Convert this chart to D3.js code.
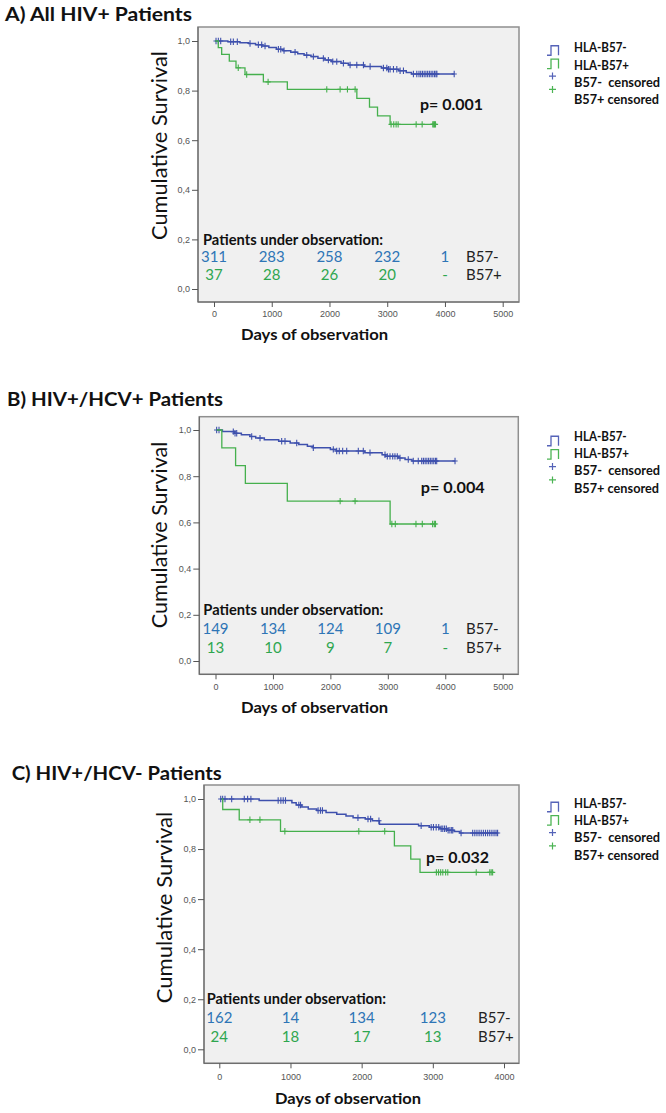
<!DOCTYPE html>
<html><head><meta charset="utf-8">
<script src="https://cdn.jsdelivr.net/npm/d3@7"></script>
<style>body{margin:0;background:#fff;} svg{display:block;} text{white-space:pre;}</style>
</head><body>
<svg id="chart" width="666" height="1113"></svg>
<script>
// ================= DATA =================
const panelTitles = ["A) All HIV+ Patients", "B) HIV+/HCV+ Patients", "C) HIV+/HCV- Patients"];
const pValues = ["p= 0.001", "p= 0.004", "p= 0.032"];
const xTicksAB = [0, 1000, 2000, 3000, 4000, 5000];
const xTicksC = [0, 1000, 2000, 3000, 4000];
const yTicks = [0, 0.2, 0.4, 0.6, 0.8, 1.0];
const yTickLabels = ["0,0", "0,2", "0,4", "0,6", "0,8", "1,0"];
const legendLabels = ["HLA-B57-", "HLA-B57+", "B57-  censored", "B57+ censored"];
const atRiskHeader = "Patients under observation:";
const groupLabels = ["B57-", "B57+"];
const yTitle = "Cumulative Survival";
const xTitle = "Days of observation";

// numbers at risk
const atRiskDaysAB = [0, 1000, 2000, 3000, 4000];
const atRiskDaysC = [0, 1000, 2000, 3000];
const atRiskA_neg = ["311", "283", "258", "232", "1"];
const atRiskA_pos = ["37", "28", "26", "20", "-"];
const atRiskB_neg = ["149", "134", "124", "109", "1"];
const atRiskB_pos = ["13", "10", "9", "7", "-"];
const atRiskC_neg = ["162", "14", "134", "123"];
const atRiskC_pos = ["24", "18", "17", "13"];

// Kaplan-Meier curves: [day, survival after step]
// Panel A
const kmA_negStart = 20, kmA_negEnd = 4160;
const kmA_negSteps = [[240,0.997],[450,0.993],[600,0.99],[720,0.985],[830,0.98],[950,0.974],[1080,0.967],[1200,0.961],[1330,0.955],[1450,0.949],[1560,0.943],[1680,0.937],[1800,0.93],[1920,0.923],[2040,0.917],[2200,0.91],[2330,0.903],[2600,0.897],[2900,0.891],[3000,0.886],[3200,0.88],[3330,0.873],[3420,0.867]];
const kmA_negCens = [35,75,116,289,335,404,624,768,826,884,1115,1156,1213,1404,1606,1721,1894,1981,2057,2126,2241,2357,2473,2588,2704,2934,2993,3022,3050,3108,3166,3223,3281,3454,3512,3550,3580,3610,3640,3670,3700,3730,3760,3790,3820,3845,3860,4160];
const kmA_posStart = 20, kmA_posEnd = 3840;
const kmA_posSteps = [[74,0.973],[133,0.946],[265,0.919],[381,0.892],[537,0.865],[855,0.835],[1270,0.805],[2474,0.769],[2693,0.733],[2832,0.698],[3050,0.664]];
const kmA_posCens = [420,566,937,1953,2184,2311,2444,3067,3113,3154,3189,3501,3605,3789,3805,3819,3836];

// Panel B
const kmB_negStart = 20, kmB_negEnd = 4170;
const kmB_negSteps = [[120,0.993],[330,0.986],[450,0.979],[600,0.972],[700,0.965],[850,0.958],[1100,0.951],[1300,0.944],[1450,0.937],[1600,0.93],[1700,0.923],[2000,0.916],[2100,0.909],[2600,0.902],[2900,0.893],[2960,0.886],[3180,0.879],[3300,0.872],[3420,0.866]];
const kmB_negCens = [20,61,310,340,369,630,775,1152,1210,1414,1703,2051,2110,2155,2214,2284,2486,2573,2690,2951,2991,3038,3085,3124,3165,3212,3356,3443,3530,3590,3620,3650,3680,3710,3740,3770,3800,3830,3851,4170];
const kmB_posStart = 20, kmB_posEnd = 3840;
const kmB_posSteps = [[110,0.923],[350,0.846],[520,0.769],[1250,0.692],[3040,0.593]];
const kmB_posCens = [2170,2430,3070,3130,3490,3600,3780,3810,3830];

// Panel C
const kmC_negStart = 20, kmC_negEnd = 3910;
const kmC_negSteps = [[560,0.994],[1020,0.985],[1080,0.976],[1160,0.968],[1250,0.96],[1370,0.954],[1500,0.946],[1650,0.939],[1780,0.932],[1880,0.925],[2050,0.92],[2150,0.913],[2250,0.899],[2800,0.893],[2950,0.887],[3100,0.881],[3200,0.875],[3300,0.87],[3380,0.864]];
const kmC_negCens = [20,47,80,174,351,398,444,827,865,898,930,1117,1141,1388,1421,1449,1948,2089,2126,2243,2836,2977,3009,3047,3083,3117,3140,3165,3190,3215,3240,3265,3280,3397,3560,3590,3620,3650,3680,3710,3740,3770,3800,3830,3860,3888,3910];
const kmC_posStart = 33, kmC_posEnd = 3850;
const kmC_posSteps = [[48,0.958],[280,0.917],[860,0.871],[2460,0.813],[2690,0.76],[2820,0.707]];
const kmC_posCens = [430,571,921,1960,2324,3050,3080,3110,3140,3180,3210,3610,3800,3820,3840];

// ================= STYLE / LAYOUT =================
const colNegLine = "#3e50ad", colPosLine = "#45b04d";
const colNegText = "#2e75b6", colPosText = "#2ea64f";
const colNegIcon = "#5563b8", colPosIcon = "#4cb454";
const fontMain = "Lato, 'Open Sans', sans-serif";
const fontTick = "'Liberation Sans', Arial, sans-serif";

const panels = [
  { title: panelTitles[0], p: pValues[0], xTicks: xTicksAB, riskDays: atRiskDaysAB, riskNeg: atRiskA_neg, riskPos: atRiskA_pos,
    neg: {start: kmA_negStart, end: kmA_negEnd, steps: kmA_negSteps, cens: kmA_negCens},
    pos: {start: kmA_posStart, end: kmA_posEnd, steps: kmA_posSteps, cens: kmA_posCens},
    L: {box:[198,27,519,302], x0:214, xMaxPx:502.7, xMax:5000, yB:289, yT:41, title:[5,21,187], yTitle:[160,145.5,189], xTitle:[314.5,340,147], p:[420,110,63], header:[203,245,180], rows:[261.5,280], legendBase:52.3, iconBase:50.5, labelX:466, tickBase:317 } },
  { title: panelTitles[1], p: pValues[1], xTicks: xTicksAB, riskDays: atRiskDaysAB, riskNeg: atRiskB_neg, riskPos: atRiskB_pos,
    neg: {start: kmB_negStart, end: kmB_negEnd, steps: kmB_negSteps, cens: kmB_negCens},
    pos: {start: kmB_posStart, end: kmB_posEnd, steps: kmB_posSteps, cens: kmB_posCens},
    L: {box:[199.3,416.7,518.3,674.3], x0:215.5, xMaxPx:502.7, xMax:5000, yB:661, yT:430, title:[7,405.5,216], yTitle:[160,535,186.6], xTitle:[314.5,713,147], p:[420.7,493,64], header:[203.3,615,180], rows:[634,652.7], legendBase:441, iconBase:441, labelX:466, tickBase:690 } },
  { title: panelTitles[2], p: pValues[2], xTicks: xTicksC, riskDays: atRiskDaysC, riskNeg: atRiskC_neg, riskPos: atRiskC_pos,
    neg: {start: kmC_negStart, end: kmC_negEnd, steps: kmC_negSteps, cens: kmC_negCens},
    pos: {start: kmC_posStart, end: kmC_posEnd, steps: kmC_posSteps, cens: kmC_posCens},
    L: {box:[204,785,519,1063.3], x0:219.3, xMaxPx:504, xMax:4000, yB:1049.3, yT:799, title:[11.7,780,210], yTitle:[165,907.5,191.6], xTitle:[348,1104,146], p:[426,863,63], header:[206.7,1004,179.3], rows:[1023,1041.7], legendBase:808, iconBase:807, labelX:478, tickBase:1080 } }
];

const svg = d3.select("#chart");
svg.append("rect").attr("width", 666).attr("height", 1113).attr("fill", "#fff");

function fitW(sel, w) { return sel.attr("textLength", w).attr("lengthAdjust", "spacingAndGlyphs"); }

function survAt(curve, t) {
  let s = 1;
  for (const [d, v] of curve.steps) { if (d <= t) s = v; }
  return s;
}

panels.forEach(P => {
  const L = P.L;
  const g = svg.append("g");
  const [bx0, by0, bx1, by1] = L.box;
  const x = d3.scaleLinear().domain([0, L.xMax]).range([L.x0, L.xMaxPx]);
  const y = d3.scaleLinear().domain([0, 1]).range([L.yB, L.yT]);

  // title
  fitW(g.append("text").attr("x", L.title[0]).attr("y", L.title[1])
    .attr("font-family", fontMain).attr("font-weight", 700).attr("font-size", 18.5)
    .attr("fill", "#111").text(P.title), L.title[2]);

  // plot background
  g.append("rect").attr("x", bx0).attr("y", by0).attr("width", bx1 - bx0).attr("height", by1 - by0)
    .attr("fill", "#f0f0f0").attr("stroke", "#8f8f8f").attr("stroke-width", 1.5);

  // axes
  const yAxis = d3.axisLeft(y).tickValues(yTicks).tickSize(6).tickPadding(2)
    .tickFormat((d, i) => yTickLabels[i]);
  const ya = g.append("g").attr("transform", `translate(${bx0},0)`).call(yAxis);
  ya.select(".domain").attr("stroke", "#666").attr("d", `M0,${by0}V${by1}`);
  ya.selectAll(".tick line").attr("stroke", "#555");
  ya.selectAll(".tick text").attr("font-family", fontTick).attr("font-size", 9).attr("fill", "#555");

  const xAxis = d3.axisBottom(x).tickValues(P.xTicks).tickSize(5).tickFormat(d3.format("d"));
  const xa = g.append("g").attr("transform", `translate(0,${by1})`).call(xAxis);
  xa.select(".domain").attr("stroke", "#666").attr("d", `M${bx0},0H${bx1}`);
  xa.selectAll(".tick line").attr("stroke", "#555");
  xa.selectAll(".tick text").attr("font-family", fontTick).attr("font-size", 9).attr("fill", "#555")
    .attr("y", null).attr("dy", null).attr("transform", `translate(0,${L.tickBase - by1})`);

  // axis titles
  fitW(g.append("text").attr("transform", `translate(${L.yTitle[0] + 7},${L.yTitle[1]}) rotate(-90)`)
    .attr("text-anchor", "middle").attr("font-family", fontMain).attr("font-size", 21).attr("font-weight", 400)
    .attr("fill", "#111").text(yTitle), L.yTitle[2]);
  fitW(g.append("text").attr("x", L.xTitle[0]).attr("y", L.xTitle[1]).attr("text-anchor", "middle")
    .attr("font-family", fontMain).attr("font-size", 15.5).attr("font-weight", 700)
    .attr("fill", "#111").text(xTitle), L.xTitle[2]);

  // KM curves
  const line = d3.line().x(d => x(d[0])).y(d => y(d[1])).curve(d3.curveStepAfter);
  [[P.neg, colNegLine, 1.5], [P.pos, colPosLine, 1.3]].forEach(([c, col, sw]) => {
    const pts = [[c.start, 1], ...c.steps, [c.end, c.steps[c.steps.length - 1][1]]];
    g.append("path").attr("d", line(pts)).attr("fill", "none").attr("stroke", col).attr("stroke-width", sw);
    const cg = g.append("g").attr("stroke", col).attr("stroke-width", 1.1);
    c.cens.forEach(t => {
      const cx = x(t), cy = y(survAt(c, t));
      cg.append("path").attr("d", `M${cx},${cy - 3.2}V${cy + 3.2}M${cx - 2.6},${cy}H${cx + 2.6}`);
    });
  });

  // p value
  fitW(g.append("text").attr("x", L.p[0]).attr("y", L.p[1]).attr("font-family", fontMain)
    .attr("font-weight", 700).attr("font-size", 16).attr("fill", "#111").text(P.p), L.p[2]);

  // at risk table
  fitW(g.append("text").attr("x", L.header[0]).attr("y", L.header[1]).attr("font-family", fontMain)
    .attr("font-weight", 700).attr("font-size", 15.5).attr("fill", "#111").text(atRiskHeader), L.header[2]);
  [[P.riskNeg, colNegText], [P.riskPos, colPosText]].forEach(([vals, col], r) => {
    vals.forEach((v, i) => {
      g.append("text").attr("x", x(P.riskDays[i])).attr("y", L.rows[r]).attr("text-anchor", "middle")
        .attr("font-family", fontMain).attr("font-size", 15).attr("fill", col).text(v);
    });
    g.append("text").attr("x", L.labelX).attr("y", L.rows[r]).attr("font-family", fontMain)
      .attr("font-size", 15).attr("fill", "#222").text(groupLabels[r]);
  });

  // legend
  const lg = g.append("g");
  const ix = 547, iw = 11.5, ih = 9.5;
  [colNegIcon, colPosIcon].forEach((col, i) => {
    const cy = L.iconBase + i * 13.3;
    lg.append("path").attr("d", `M${ix},${cy + ih / 2}H${ix + 4}V${cy - ih / 2}H${ix + iw}V${cy + ih / 2}`)
      .attr("fill", "none").attr("stroke", col).attr("stroke-width", 1.3);
  });
  [colNegIcon, colPosIcon].forEach((col, i) => {
    const cy = L.iconBase + (i + 2) * 13.3 - 1;
    const cx = ix + 5.5;
    lg.append("path").attr("d", `M${cx},${cy - 3.5}V${cy + 3.5}M${cx - 3.5},${cy}H${cx + 3.5}`)
      .attr("stroke", col).attr("stroke-width", 1.2);
  });
  const legendW = [52.7, 55, 86, 85];
  legendLabels.forEach((t, i) => {
    fitW(lg.append("text").attr("x", 574).attr("y", L.legendBase + i * 17.2).attr("font-family", fontMain)
      .attr("font-weight", 700).attr("font-size", 12.5).attr("fill", "#111").text(t), legendW[i]);
  });
});
</script>
</body></html>
